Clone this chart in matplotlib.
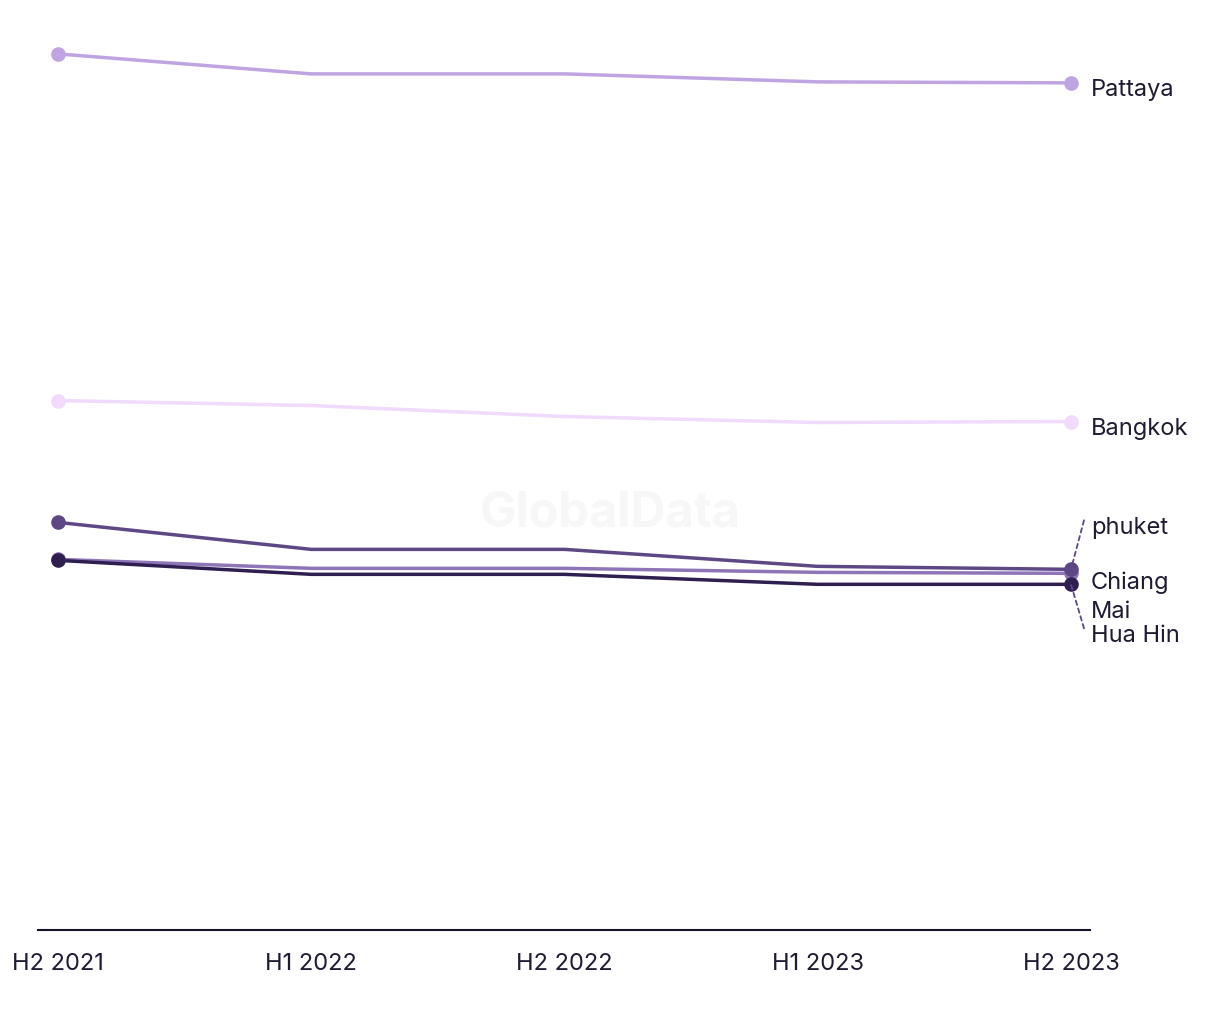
import numpy as np
import matplotlib
matplotlib.use("Agg")
import matplotlib.pyplot as plt

periods = ["H2 2021", "H1 2022", "H2 2022", "H1 2023", "H2 2023"]

pattaya = [87.7, 85.7, 85.7, 84.9, 84.8]
bangkok = [53.0, 52.5, 51.4, 50.8, 50.9]
phuket = [40.8, 38.1, 38.1, 36.4, 36.1]
chiang_mai = [37.1, 36.2, 36.2, 35.8, 35.7]
hua_hin = [37.0, 35.6, 35.6, 34.6, 34.6]

plt.rcParams['font.family'] = ['Inter', 'DejaVu Sans']
txt = "#1f1b33"

fig = plt.figure(figsize=(12.2, 10.2), dpi=100)
ax = fig.add_axes([0.0311, 0.0873, 0.8623, 0.8814])

x = np.arange(len(periods))

fig.text(0.5, 0.497, "GlobalData", ha="center", va="center", fontsize=35,
         fontweight="bold", color="#f7f7f7", zorder=0)

series = [
    ("Pattaya", pattaya, "#c0a3e3"),
    ("Bangkok", bangkok, "#f1dafb"),
    ("Chiang\nMai", chiang_mai, "#8e75b8"),
    ("phuket", phuket, "#5e4785"),
    ("Hua Hin", hua_hin, "#2f1f50"),
]

for name, vals, col in series:
    ax.plot(x, vals, color=col, lw=2.5, solid_capstyle="round", zorder=2)
    ax.plot([x[0], x[-1]], [vals[0], vals[-1]], "o", color=col, ms=9.5, zorder=3)

# right-side labels (offsets in points from last point)
labels = {
    "Pattaya": (pattaya[-1], -4.3),
    "Bangkok": (bangkok[-1], -5.0),
    "phuket": (phuket[-1], 30.2),
    "Chiang\nMai": (chiang_mai[-1], -16.6),
    "Hua Hin": (hua_hin[-1], -36.7),
}
for name, (v, dy) in labels.items():
    ax.annotate(name, xy=(x[-1], v), xytext=(14.4, dy), textcoords="offset points",
                ha="left", va="center", fontsize=17, color=txt, linespacing=1.42)

# leader lines
for v, dy in [(phuket[-1], 35.3), (hua_hin[-1], -31.7)]:
    ax.annotate("", xy=(x[-1], v), xytext=(9.4, dy), textcoords="offset points",
                arrowprops=dict(arrowstyle="-", color="#5e4785", lw=1.3,
                                linestyle=(0, (2.5, 2)), shrinkA=0, shrinkB=0))

ax.set_xlim(-0.079, 4.075)
ax.set_ylim(0, 90)
ax.set_xticks(x)
ax.set_xticklabels(periods, fontsize=17, color=txt)
ax.tick_params(axis="x", length=0, pad=16)
ax.set_yticks([])
for s in ["top", "right", "left"]:
    ax.spines[s].set_visible(False)
ax.spines["bottom"].set_color("#16142a")
ax.spines["bottom"].set_linewidth(1.5)

fig.savefig("out.png", dpi=100)
